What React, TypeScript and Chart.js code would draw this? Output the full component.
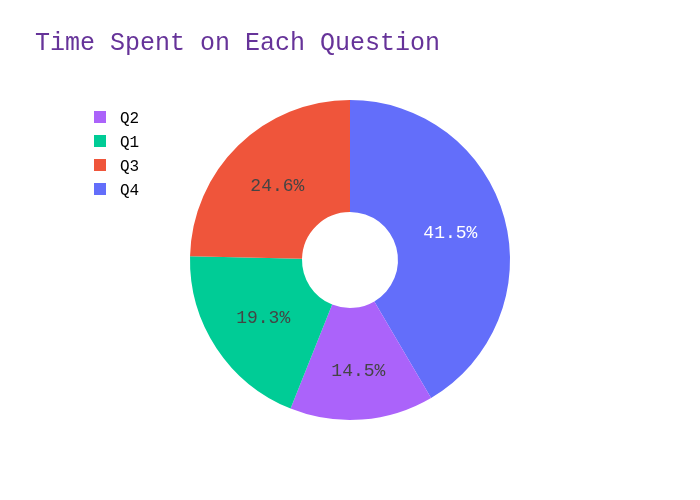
import React, { useEffect, useRef } from "react";
import { Chart, registerables } from "chart.js";

Chart.register(...registerables);

const TITLE = "Time Spent on Each Question";
// drawing order (clockwise from 12 o'clock)
const labels = ["Q4", "Q2", "Q1", "Q3"];
const values = [41.5, 14.5, 19.3, 24.6];
const colors = ["#636efa", "#ab63fa", "#00cc96", "#ef553b"];
const textColors = ["#ffffff", "#444444", "#444444", "#444444"];
// legend order as shown
const legendOrder = ["Q2", "Q1", "Q3", "Q4"];
// extra outward placement of slice text (px), as plotly fits narrow slices
const textPush = [0, 7, 0, 0];

const MONO = '"Liberation Mono", "DejaVu Sans Mono", monospace';

const overlayPlugin = {
  id: "overlay",
  afterDatasetsDraw(chart: any) {
    const ctx = chart.ctx;
    const meta = chart.getDatasetMeta(0);
    const data = chart.data.datasets[0].data as number[];
    const total = data.reduce((a, b) => a + b, 0);
    ctx.save();
    ctx.font = `18px ${MONO}`;
    ctx.textAlign = "center";
    ctx.textBaseline = "middle";
    meta.data.forEach((arc: any, i: number) => {
      const p = arc.getCenterPoint();
      const mid = (arc.startAngle + arc.endAngle) / 2;
      const x = p.x + Math.cos(mid) * textPush[i];
      const y = p.y + Math.sin(mid) * textPush[i] + 1;
      ctx.fillStyle = textColors[i];
      ctx.fillText(((data[i] / total) * 100).toFixed(1) + "%", x, y);
    });
    ctx.restore();
  },
  afterDraw(chart: any) {
    const ctx = chart.ctx;
    ctx.save();
    ctx.font = `25px ${MONO}`;
    ctx.fillStyle = "#663399";
    ctx.textAlign = "left";
    ctx.textBaseline = "middle";
    ctx.fillText(TITLE, 35, 43);
    ctx.font = `16px ${MONO}`;
    ctx.textBaseline = "middle";
    legendOrder.forEach((name, k) => {
      const i = labels.indexOf(name);
      const y = 117 + k * 24;
      ctx.fillStyle = colors[i];
      ctx.fillRect(94, y - 6, 12, 12);
      ctx.fillStyle = "#000000";
      ctx.fillText(name, 120, y + 2);
    });
    ctx.restore();
  },
};

export default function App() {
  const ref = useRef<HTMLCanvasElement>(null);
  useEffect(() => {
    if (!ref.current) return;
    const chart = new Chart(ref.current, {
      type: "doughnut",
      data: {
        labels,
        datasets: [
          {
            data: values,
            backgroundColor: colors,
            borderColor: "#ffffff",
            borderWidth: 0,
          },
        ],
      },
      options: {
        animation: false,
        responsive: false,
        cutout: "30%",
        layout: { padding: { top: 100, bottom: 80, left: 190, right: 190 } },
        plugins: {
          legend: { display: false },
          title: { display: false },
          tooltip: { enabled: false },
        },
      },
      plugins: [overlayPlugin],
    });
    return () => chart.destroy();
  }, []);
  return (
    <div style={{ position: "absolute", left: 0, top: 0, width: 700, height: 500, background: "#fff" }}>
      <canvas ref={ref} width={700} height={500} style={{ width: 700, height: 500 }} />
    </div>
  );
}
